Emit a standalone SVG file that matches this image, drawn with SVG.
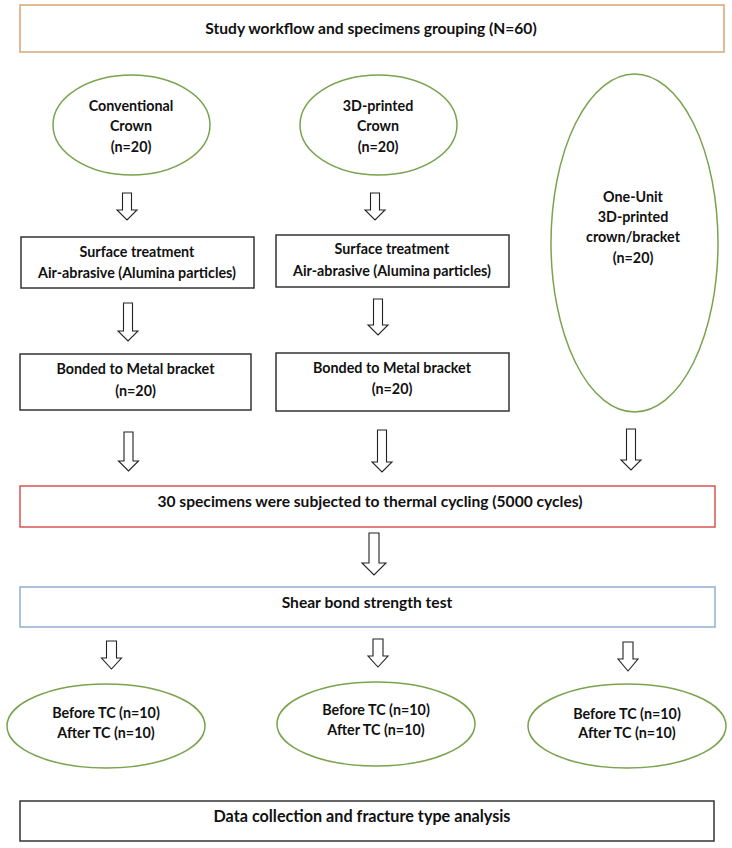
<svg xmlns="http://www.w3.org/2000/svg" width="732" height="848" viewBox="0 0 732 848">
<style>
text{font-family:Lato,"Liberation Sans",sans-serif;font-weight:bold;font-size:14.3px;fill:#111;text-anchor:middle}
.big{font-size:15.6px}
.box{fill:#fff;stroke:#333;stroke-width:1.5}
.ell{fill:#fff;stroke:#7aa34f;stroke-width:1.5}
.arr{fill:#fff;stroke:#222;stroke-width:1.1}
</style>
<rect width="732" height="848" fill="#fff"/>
<g id="title"><rect x="20" y="5" width="704" height="47" fill="#fff" stroke="#d9a574" stroke-width="1.5"/><text class="big" x="371" y="34">Study workflow and specimens grouping (N=60)</text></g>
<g id="conventional"><ellipse class="ell" cx="131.5" cy="125" rx="78.5" ry="50"/><text x="131" y="111">Conventional</text><text x="131" y="131">Crown</text><text x="131" y="152">(n=20)</text></g>
<g id="printed"><ellipse class="ell" cx="378.5" cy="125" rx="78.5" ry="50"/><text x="378" y="111">3D-printed</text><text x="378" y="131">Crown</text><text x="378" y="152">(n=20)</text></g>
<g id="oneunit"><ellipse class="ell" cx="634.5" cy="243" rx="83.5" ry="169"/><text x="633" y="202">One-Unit</text><text x="633" y="222">3D-printed</text><text x="633" y="242">crown/bracket</text><text x="633" y="263">(n=20)</text></g>
<g id="surface1"><rect class="box" x="21" y="237" width="233" height="51"/><text x="137" y="257">Surface treatment</text><text x="137" y="278">Air-abrasive (Alumina particles)</text></g>
<g id="surface2"><rect class="box" x="276" y="235" width="233" height="52"/><text x="392" y="254">Surface treatment</text><text x="392" y="276">Air-abrasive (Alumina particles)</text></g>
<g id="bonded1"><rect class="box" x="20" y="354" width="231" height="56"/><text x="135.5" y="374">Bonded to Metal bracket</text><text x="135.5" y="396">(n=20)</text></g>
<g id="bonded2"><rect class="box" x="276" y="353" width="233" height="58"/><text x="392" y="373">Bonded to Metal bracket</text><text x="392" y="394">(n=20)</text></g>
<g id="thermal"><rect x="20" y="486" width="695" height="41" fill="#fff" stroke="#d9534f" stroke-width="1.5"/><text class="big" x="370" y="507">30 specimens were subjected to thermal cycling (5000 cycles)</text></g>
<g id="shear"><rect x="20" y="587" width="695" height="40" fill="#fff" stroke="#8fb0cf" stroke-width="1.5"/><text class="big" x="367" y="608">Shear bond strength test</text></g>
<g id="group1"><ellipse class="ell" cx="106" cy="726" rx="99" ry="42"/><text x="106" y="718">Before TC (n=10)</text><text x="106" y="738">After TC (n=10)</text></g>
<g id="group2"><ellipse class="ell" cx="376" cy="724" rx="99" ry="42"/><text x="376" y="715">Before TC (n=10)</text><text x="376" y="735">After TC (n=10)</text></g>
<g id="group3"><ellipse class="ell" cx="627" cy="726" rx="99" ry="42"/><text x="627" y="719">Before TC (n=10)</text><text x="627" y="738">After TC (n=10)</text></g>
<g id="data"><rect class="box" x="20" y="801" width="694" height="40"/><text x="362" y="822" style="font-size:16.2px">Data collection and fracture type analysis</text></g>
<g id="connectors">
<path class="arr" d="M122.5,193H131.5V210H137L127,220L117,210H122.5Z"/>
<path class="arr" d="M370.5,193H379.5V210H385L375,220L365,210H370.5Z"/>
<path class="arr" d="M123.5,303H132.5V331H138L128,341L118,331H123.5Z"/>
<path class="arr" d="M373.5,299H382.5V325H388L378,335L368,325H373.5Z"/>
<path class="arr" d="M124,432H133V461H138.5L128.5,471L118.5,461H124Z"/>
<path class="arr" d="M377.5,430H386.5V462H392L382,472L372,462H377.5Z"/>
<path class="arr" d="M626.5,429H635.5V460H641L631,470L621,460H626.5Z"/>
<path class="arr" d="M369,533H379V563H386L374,575L362,563H369Z"/>
<path class="arr" d="M106.5,641H116.5V658H121.5L111.5,669L101.5,658H106.5Z"/>
<path class="arr" d="M373,639H383V656H388L378,667L368,656H373Z"/>
<path class="arr" d="M623,642H633V659H638L628,671L618,659H623Z"/>
</g>
</svg>
